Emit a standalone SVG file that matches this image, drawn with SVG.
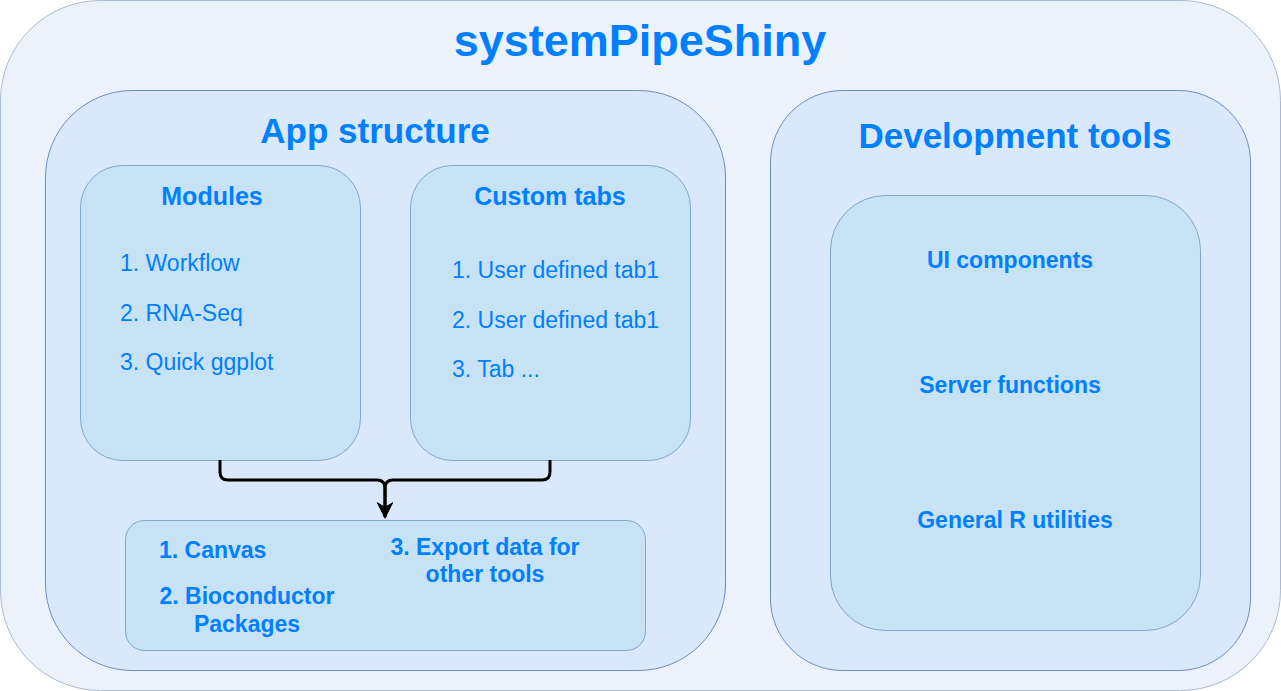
<svg xmlns="http://www.w3.org/2000/svg" width="1281" height="691" viewBox="0 0 1281 691">
<style>
.outer{fill:#EBF2FC;stroke:#A9BAD3;stroke-width:1}
.mid{fill:#DAE8FC;stroke:#6C8EBF;stroke-width:1}
.inner{fill:#C6E2F4;stroke:#7FA8C8;stroke-width:1}
text{font-family:"Liberation Sans",Arial,sans-serif;fill:#007FFF}
.t1{font-size:45px;font-weight:bold;text-anchor:middle}
.t2{font-size:35px;font-weight:bold;text-anchor:middle}
.t3{font-size:25px;font-weight:bold;text-anchor:middle}
.li{font-size:23px}
.b{font-size:23px;font-weight:bold}
.bc{font-size:23px;font-weight:bold;text-anchor:middle}
.conn{fill:none;stroke:#000;stroke-width:3}
</style>
<defs>
<marker id="arr" viewBox="0 0 10 10" refX="9" refY="5" markerWidth="5.5" markerHeight="5.5" orient="auto" markerUnits="strokeWidth">
<path d="M0,0 L10,5 L0,10 L3,5 Z" fill="#000"/>
</marker>
</defs>
<g id="systemPipeShiny">
<rect class="outer" x="0.5" y="0.5" width="1280" height="690" rx="100" ry="100"/>
<text class="t1" x="640" y="56">systemPipeShiny</text>
</g>
<g id="app-structure">
<rect class="mid" x="45.5" y="90.5" width="680" height="580" rx="87" ry="87"/>
<text class="t2" x="375" y="143">App structure</text>
</g>
<g id="development-tools">
<rect class="mid" x="770.5" y="90.5" width="480" height="580" rx="72" ry="72"/>
<text class="t2" x="1015" y="148">Development tools</text>
</g>
<g id="modules">
<rect class="inner" x="80.5" y="165.5" width="280" height="295" rx="42" ry="42"/>
<text class="t3" x="212" y="205">Modules</text>
<text class="li" x="120" y="271">1. Workflow</text>
<text class="li" x="120" y="321">2. RNA-Seq</text>
<text class="li" x="120" y="370">3. Quick ggplot</text>
</g>
<g id="custom-tabs">
<rect class="inner" x="410.5" y="165.5" width="280" height="295" rx="42" ry="42"/>
<text class="t3" x="550" y="205">Custom tabs</text>
<text class="li" x="452" y="278">1. User defined tab1</text>
<text class="li" x="452" y="328">2. User defined tab1</text>
<text class="li" x="452" y="377">3. Tab ...</text>
</g>
<g id="outputs">
<rect class="inner" x="125.5" y="520.5" width="520" height="130" rx="19" ry="19"/>
<text class="b" x="159" y="558">1. Canvas</text>
<text class="bc" x="247" y="604">2. Bioconductor</text>
<text class="bc" x="247" y="632">Packages</text>
<text class="bc" x="485" y="555">3. Export data for</text>
<text class="bc" x="485" y="582">other tools</text>
</g>
<g id="dev-tools-list">
<rect class="inner" x="830.5" y="195.5" width="370" height="435" rx="55" ry="55"/>
<text class="bc" x="1010" y="268">UI components</text>
<text class="bc" x="1010" y="393">Server functions</text>
<text class="bc" x="1015" y="528">General R utilities</text>
</g>
<g id="connectors">
<path class="conn" d="M220,460 V472 Q220,480 228,480 H377 Q385,480 385,488 V517" marker-end="url(#arr)"/>
<path class="conn" d="M550,460 V472 Q550,480 542,480 H393 Q385,480 385,488 V517" marker-end="url(#arr)"/>
</g>
</svg>
